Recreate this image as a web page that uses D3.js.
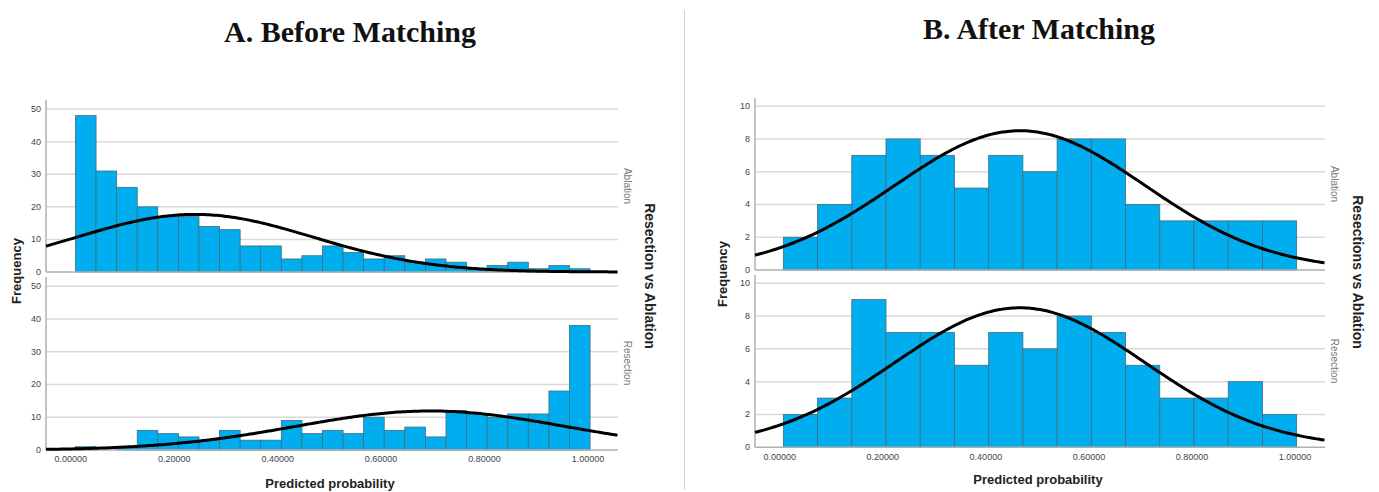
<!DOCTYPE html>
<meta charset="utf-8">
<style>
body { margin: 0; background: #fff; }
svg { display: block; }
.title { font: bold 30px "Liberation Serif", "DejaVu Serif", serif; text-anchor: middle; fill: #111; }
.tick-label { font: 9px "Liberation Sans", Arial, sans-serif; fill: #444; }
.axis-title { font: bold 13px "Liberation Sans", Arial, sans-serif; fill: #222; text-anchor: middle; }
.panel-label { font: 10px "Liberation Sans", Arial, sans-serif; fill: #777; text-anchor: middle; }
.grid { stroke: #d9d9d9; stroke-width: 1.5; }
.bar { fill: #00aeef; stroke: #3f6e7c; stroke-width: 0.8; }
.curve { fill: none; stroke: #000; stroke-width: 3; }
</style>
<body>
<svg width="1379" height="492"></svg>
<script src="https://d3js.org/d3.v7.min.js"></script>
<script>
// predicted probability histograms
var probTicks = [0, 0.2, 0.4, 0.6, 0.8, 1.0];

var beforeAblation  = [48, 31, 26, 20, 17, 17, 14, 13, 8, 8, 4, 5, 8, 6, 4, 5, 3, 4, 3, 1, 2, 3, 1, 2, 1];
var beforeResection = [1, 0, 1, 6, 5, 4, 3, 6, 3, 3, 9, 5, 6, 5, 10, 6, 7, 4, 12, 11, 10, 11, 11, 18, 38];
var beforeBinRange  = [0.009, 1.004];
var beforeYTicks    = [0, 10, 20, 30, 40, 50];

var afterAblation  = [2, 4, 7, 8, 7, 5, 7, 6, 8, 8, 4, 3, 3, 3, 3];
var afterResection = [2, 3, 9, 7, 7, 5, 7, 6, 8, 7, 5, 3, 3, 4, 2];
var afterBinRange  = [0.007, 1.003];
var afterYTicks    = [0, 2, 4, 6, 8, 10];

// normal curves (mean, sd)
var beforeAblationFit  = [0.24, 0.228];
var beforeResectionFit = [0.695, 0.26];
var afterAblationFit   = [0.466, 0.243];
var afterResectionFit  = [0.466, 0.243];

var svg = d3.select("svg");
var fmt = d3.format(".5f");

svg.append("line")
    .attr("x1", 684.5).attr("x2", 684.5).attr("y1", 10).attr("y2", 490)
    .attr("stroke", "#cfcfcf").attr("stroke-width", 1);

svg.append("text").attr("class", "title").attr("x", 350).attr("y", 42).text("A. Before Matching");
svg.append("text").attr("class", "title").attr("x", 1039).attr("y", 39).text("B. After Matching");

function drawChart(cfg) {
  var x = d3.scaleLinear().domain([-0.048, 1.058]).range([cfg.left, cfg.right]);

  cfg.panels.forEach(function(p) {
    var y = d3.scaleLinear().domain([0, p.ymax]).range([p.bottom, p.top]);
    var g = svg.append("g");

    g.selectAll(".grid")
      .data(cfg.yTicks.filter(function(d) { return d > 0; }))
      .enter().append("line")
        .attr("class", "grid")
        .attr("x1", cfg.left).attr("x2", cfg.right)
        .attr("y1", function(d) { return y(d); })
        .attr("y2", function(d) { return y(d); });

    g.selectAll(".ytick")
      .data(cfg.yTicks)
      .enter().append("text")
        .attr("class", "tick-label")
        .attr("x", cfg.left - 5)
        .attr("y", function(d) { return y(d) + 3; })
        .attr("text-anchor", "end")
        .text(function(d) { return d; });

    var n = p.counts.length;
    var bw = (cfg.binRange[1] - cfg.binRange[0]) / n;

    g.selectAll(".bar")
      .data(p.counts)
      .enter().append("rect")
        .attr("class", "bar")
        .attr("x", function(d, i) { return x(cfg.binRange[0] + i * bw); })
        .attr("width", function(d, i) { return x(cfg.binRange[0] + (i + 1) * bw) - x(cfg.binRange[0] + i * bw); })
        .attr("y", function(d) { return y(d); })
        .attr("height", function(d) { return y(0) - y(d); });

    // axis lines
    g.append("line")
      .attr("x1", cfg.left).attr("x2", cfg.right)
      .attr("y1", y(0)).attr("y2", y(0))
      .attr("stroke", "#b0b0b0").attr("stroke-width", 1.5);
    g.append("line")
      .attr("x1", cfg.left).attr("x2", cfg.left)
      .attr("y1", p.top).attr("y2", y(0))
      .attr("stroke", "#b0b0b0").attr("stroke-width", 1.5);

    var total = d3.sum(p.counts);
    var mean = p.fit[0], sd = p.fit[1];
    var pts = d3.range(x.domain()[0], x.domain()[1] + 0.001, 0.005);
    var line = d3.line()
      .x(function(v) { return x(v); })
      .y(function(v) {
        var z = (v - mean) / sd;
        return y(total * bw * Math.exp(-0.5 * z * z) / (sd * Math.sqrt(2 * Math.PI)));
      })
      .curve(d3.curveBasis);
    g.append("path").attr("class", "curve").attr("d", line(pts));

    svg.append("text")
      .attr("class", "panel-label")
      .attr("transform", "translate(" + (cfg.right + 6) + "," + p.labelY + ") rotate(90)")
      .text(p.name);
  });

  svg.selectAll(null)
    .data(probTicks)
    .enter().append("text")
      .attr("class", "tick-label")
      .attr("x", function(d) { return x(d); })
      .attr("y", cfg.tickY)
      .attr("text-anchor", "middle")
      .text(function(d) { return fmt(d); });

  svg.append("text")
    .attr("class", "axis-title")
    .attr("x", (cfg.left + cfg.right) / 2 - 2)
    .attr("y", cfg.xTitleY)
    .text("Predicted probability");

  svg.append("text")
    .attr("class", "axis-title")
    .attr("transform", "translate(" + cfg.freqX + "," + cfg.freqY + ") rotate(-90)")
    .text("Frequency");

  svg.append("text")
    .attr("class", "axis-title")
    .style("font-size", "14px")
    .attr("transform", "translate(" + cfg.sideX + "," + cfg.sideY + ") rotate(90)")
    .text(cfg.sideTitle);
}

drawChart({
  left: 46, right: 618,
  binRange: beforeBinRange, yTicks: beforeYTicks,
  tickY: 462, xTitleY: 488,
  freqX: 21, freqY: 271,
  sideX: 645, sideY: 276, sideTitle: "Resection vs Ablation",
  panels: [
    { name: "Ablation", counts: beforeAblation, fit: beforeAblationFit, top: 100, bottom: 272, ymax: 52.8, labelY: 186 },
    { name: "Resection", counts: beforeResection, fit: beforeResectionFit, top: 277, bottom: 450, ymax: 52.8, labelY: 363 }
  ]
});

drawChart({
  left: 755, right: 1325,
  binRange: afterBinRange, yTicks: afterYTicks,
  tickY: 460, xTitleY: 484,
  freqX: 727, freqY: 274,
  sideX: 1353, sideY: 272, sideTitle: "Resections vs Ablation",
  panels: [
    { name: "Ablation", counts: afterAblation, fit: afterAblationFit, top: 98, bottom: 270, ymax: 10.5, labelY: 184 },
    { name: "Resection", counts: afterResection, fit: afterResectionFit, top: 275, bottom: 447.3, ymax: 10.5, labelY: 361 }
  ]
});
</script>
</body>
